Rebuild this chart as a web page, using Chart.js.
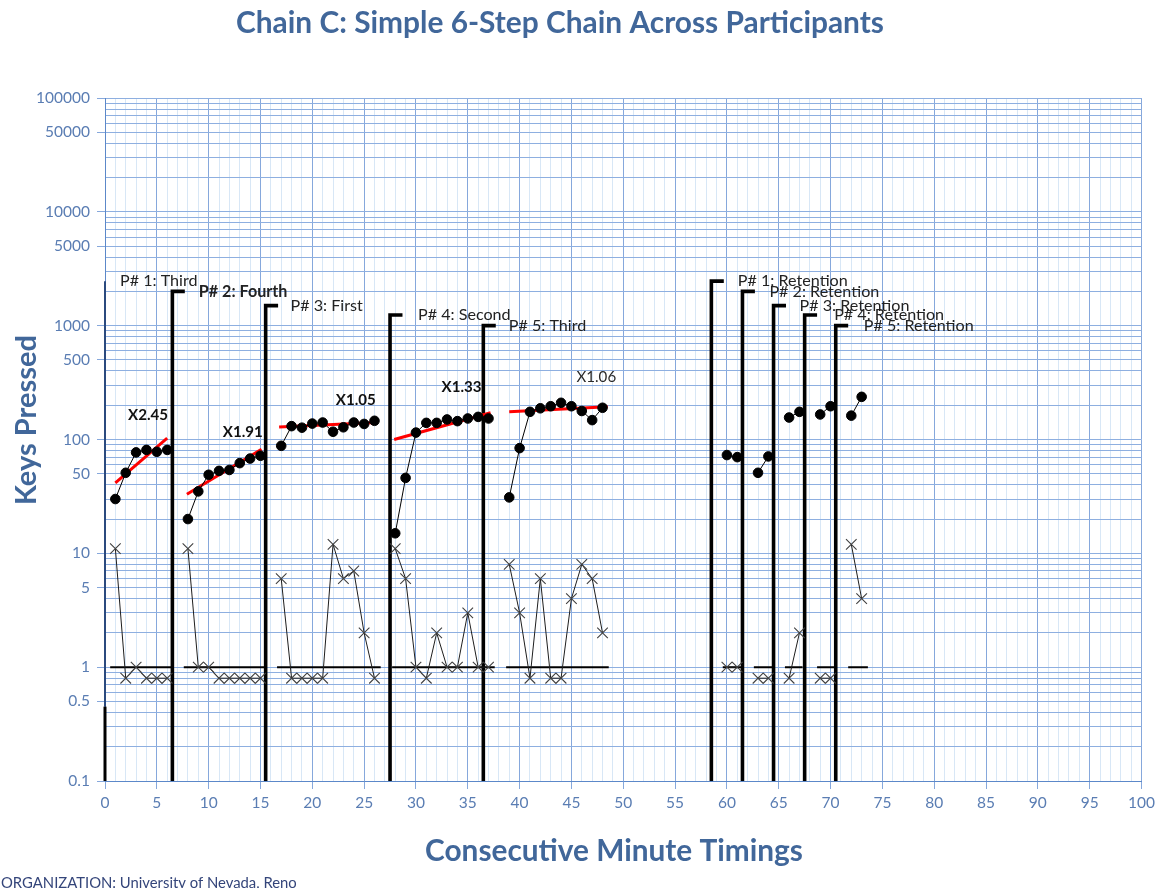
<!DOCTYPE html>
<html>
<head>
<meta charset="utf-8">
<script src="https://cdn.jsdelivr.net/npm/chart.js@4.4.1/dist/chart.umd.min.js"></script>
<style>
  html, body { margin: 0; padding: 0; background: #ffffff; }
  canvas { display: block; }
</style>
</head>
<body>
<canvas id="chart" width="1160" height="888"></canvas>
<script>
// ---- Minute timings and counts per participant (keys pressed per minute) ----
const p1Timings = [1, 2, 3, 4, 5, 6];
const p1Correct = [30, 51, 77, 81, 78, 81];
const p1Errors  = [11, 0.8, 1, 0.8, 0.8, 0.8];

const p2Timings = [8, 9, 10, 11, 12, 13, 14, 15];
const p2Correct = [20, 35, 49, 53, 54, 62, 68, 72];
const p2Errors  = [11, 1, 1, 0.8, 0.8, 0.8, 0.8, 0.8];

const p3Timings = [17, 18, 19, 20, 21, 22, 23, 24, 25, 26];
const p3Correct = [88, 131, 127, 138, 141, 117, 128, 141, 137, 146];
const p3Errors  = [6, 0.8, 0.8, 0.8, 0.8, 12, 6, 7, 2, 0.8];

const p4Timings = [28, 29, 30, 31, 32, 33, 34, 35, 36, 37];
const p4Correct = [15, 46, 115, 140, 140, 150, 145, 153, 158, 153];
const p4Errors  = [11, 6, 1, 0.8, 2, 1, 1, 3, 1, 1];

const p5Timings = [39, 40, 41, 42, 43, 44, 45, 46, 47, 48];
const p5Correct = [31, 84, 175, 188, 196, 210, 196, 178, 148, 190];
const p5Errors  = [8, 3, 0.8, 6, 0.8, 0.8, 4, 8, 6, 2];

// Retention checks
const r1Timings = [60, 61];  const r1Correct = [73, 70];   const r1Errors = [1, 1];
const r2Timings = [63, 64];  const r2Correct = [51, 71];   const r2Errors = [0.8, 0.8];
const r3Timings = [66, 67];  const r3Correct = [156, 175]; const r3Errors = [0.8, 2];
const r4Timings = [69, 70];  const r4Correct = [166, 196]; const r4Errors = [0.8, 0.8];
const r5Timings = [72, 73];  const r5Correct = [162, 237]; const r5Errors = [12, 4];

// Phase change lines and their labels
const phaseTimings = [0, 6.5, 15.5, 27.5, 36.5, 58.5, 61.5, 64.5, 67.5, 70.5];
const phaseTops    = [2460, 2000, 1500, 1240, 1000, 2460, 2000, 1500, 1240, 1000];
const phaseNames   = ['P# 1: Third', 'P# 2: Fourth', 'P# 3: First', 'P# 4: Second', 'P# 5: Third',
                      'P# 1: Retention', 'P# 2: Retention', 'P# 3: Retention', 'P# 4: Retention', 'P# 5: Retention'];
const phaseNameTimings = [1.45, 9.05, 17.9, 30.2, 38.95, 61.05, 64.1, 67.0, 70.35, 73.2];
const phaseNameBold    = [false, true, false, false, false, false, false, false, false, false];

// Record floor (one per minute) per phase
const floorValue  = 1;
const floorStarts = [0.5, 7.6, 16.6, 27.7, 38.7, 59.6, 62.6, 65.6, 68.7, 71.7];
const floorEnds   = [6.5, 15.5, 26.6, 37.6, 48.6, 61.4, 64.4, 67.3, 70.4, 73.6];

// Celeration lines and their values
const celStartT = [1, 7.9, 16.8, 27.9, 39];
const celStartV = [41.6, 33, 129, 100, 175];
const celEndT   = [6, 15.1, 26.2, 37.2, 48.5];
const celEndV   = [103, 82, 141, 172, 194];
const celLabels = ['X2.45', 'X1.91', 'X1.05', 'X1.33', 'X1.06'];
const celLabelT = [4.15, 13.3, 24.2, 34.4, 47.4];
const celLabelV = [164, 116, 220, 288, 355];
const celLabelBold = [true, true, true, true, false];

// Axis tick labels
const yTickLabels = ['100000', '50000', '10000', '5000', '1000', '500', '100', '50', '10', '5', '1', '0.5', '0.1'];
const xTickLabels = ['0', '5', '10', '15', '20', '25', '30', '35', '40', '45', '50',
                     '55', '60', '65', '70', '75', '80', '85', '90', '95', '100'];

// ---- Styling ----
const FONT = 'Lato, "Open Sans", "DejaVu Sans", sans-serif';
const TITLE_BLUE = '#41679A';
const TICK_BLUE = '#5A7DB3';
const MAJOR_GRID = '#86A8DC';
const MINOR_GRID = '#D8E7F6';
const H_GRID = '#8EAFE0';
const AXIS_BLUE = '#5C88C9';
const flagLength = 1.2;

const pts = (xs, ys) => xs.map((x, i) => ({ x: x, y: ys[i] }));

function fitSize(ctx, text, weight, width) {
  ctx.font = weight + ' 100px ' + FONT;
  return 100 * width / ctx.measureText(text).width;
}

// Tick font sized so that the widest value label spans about 54px
const measureCtx = document.createElement('canvas').getContext('2d');
const tickSize = Math.round(fitSize(measureCtx, '100000', 'normal', 54) * 10) / 10;

// Horizontal grid: every 1..9 multiple of each decade from 0.1 to 100000
const yGridValues = [];
for (let e = -1; e <= 4; e++) {
  for (let m = 1; m <= 9; m++) yGridValues.push(Number((m * Math.pow(10, e)).toPrecision(6)));
}
yGridValues.push(100000);
const yLabelValues = yTickLabels.map(Number);
const yLabelFor = v => {
  const i = yLabelValues.findIndex(l => Math.abs(v - l) / l < 1e-6);
  return i >= 0 ? yTickLabels[i] : '';
};
const xLabelFor = v => {
  const i = xTickLabels.indexOf(String(v));
  return i >= 0 ? xTickLabels[i] : '';
};

const datasets = [];

const groups = [
  [p1Timings, p1Correct, p1Errors], [p2Timings, p2Correct, p2Errors],
  [p3Timings, p3Correct, p3Errors], [p4Timings, p4Correct, p4Errors],
  [p5Timings, p5Correct, p5Errors],
  [r1Timings, r1Correct, r1Errors], [r2Timings, r2Correct, r2Errors],
  [r3Timings, r3Correct, r3Errors], [r4Timings, r4Correct, r4Errors],
  [r5Timings, r5Correct, r5Errors]
];

groups.forEach(([t, c, e]) => {
  datasets.push({
    data: pts(t, c), showLine: true, borderColor: '#000', borderWidth: 1,
    pointStyle: 'circle', pointRadius: 4.8, pointBackgroundColor: '#000',
    pointBorderColor: '#000', pointBorderWidth: 1, order: 1
  });
  datasets.push({
    data: pts(t, e), showLine: true, borderColor: '#1e1e1e', borderWidth: 1,
    pointStyle: 'crossRot', pointRadius: 7.5, pointBackgroundColor: 'rgba(0,0,0,0)',
    pointBorderColor: '#404040', pointBorderWidth: 1.1, order: 2
  });
});

celStartT.forEach((t, i) => {
  datasets.push({
    data: [{ x: t, y: celStartV[i] }, { x: celEndT[i], y: celEndV[i] }],
    showLine: true, borderColor: '#FF0000', borderWidth: 3, pointRadius: 0, order: 3
  });
});

floorStarts.forEach((t, i) => {
  datasets.push({
    data: [{ x: t, y: floorValue }, { x: floorEnds[i], y: floorValue }],
    showLine: true, borderColor: '#000', borderWidth: 2, pointRadius: 0, order: 4
  });
});

phaseTimings.forEach((t, i) => {
  if (i === 0) {
    datasets.push({
      data: [{ x: t, y: 0.1 }, { x: t, y: 0.45 }],
      showLine: true, borderColor: '#000', borderWidth: 3, pointRadius: 0, order: 5, clip: false
    });
    datasets.push({
      data: [{ x: t, y: 0.45 }, { x: t, y: phaseTops[i] }],
      showLine: true, borderColor: '#2B4A7E', borderWidth: 2, pointRadius: 0, order: 5, clip: false
    });
  } else {
    datasets.push({
      data: [{ x: t, y: 0.1 }, { x: t, y: phaseTops[i] }, { x: t + flagLength, y: phaseTops[i] }],
      showLine: true, borderColor: '#000', borderWidth: 3.6, pointRadius: 0,
      borderJoinStyle: 'miter', borderCapStyle: 'butt', order: 5, clip: false
    });
  }
});

const textPlugin = {
  id: 'chartText',
  afterDraw(chart) {
    const ctx = chart.ctx;
    const xs = chart.scales.x, ys = chart.scales.y;
    ctx.save();

    // Title
    const title = 'Chain C: Simple 6-Step Chain Across Participants';
    ctx.fillStyle = TITLE_BLUE;
    ctx.textAlign = 'center';
    ctx.textBaseline = 'middle';
    ctx.font = 'bold ' + fitSize(ctx, title, 'bold', 648).toFixed(2) + 'px ' + FONT;
    ctx.fillText(title, 560, 23);

    // Axis titles
    const xTitle = 'Consecutive Minute Timings';
    ctx.font = 'bold ' + fitSize(ctx, xTitle, 'bold', 378).toFixed(2) + 'px ' + FONT;
    ctx.fillText(xTitle, 614, 851);

    const yTitle = 'Keys Pressed';
    ctx.save();
    ctx.translate(27, 420);
    ctx.rotate(-Math.PI / 2);
    ctx.font = 'bold ' + fitSize(ctx, yTitle, 'bold', 170).toFixed(2) + 'px ' + FONT;
    ctx.fillText(yTitle, 0, 0);
    ctx.restore();

    // Footer
    const footer = 'ORGANIZATION: University of Nevada, Reno';
    ctx.textAlign = 'left';
    ctx.fillStyle = '#34457A';
    ctx.font = fitSize(ctx, footer, 'normal', 296).toFixed(2) + 'px ' + FONT;
    ctx.fillText(footer, 1, 883);

    // Phase labels
    const phaseSize = fitSize(ctx, 'P# 1: Retention', 'normal', 110);
    phaseNames.forEach((name, i) => {
      const w = phaseNameBold[i] ? 'bold' : 'normal';
      ctx.font = w + ' ' + phaseSize.toFixed(2) + 'px ' + FONT;
      ctx.fillStyle = '#222222';
      ctx.textAlign = 'left';
      ctx.fillText(name, xs.getPixelForValue(phaseNameTimings[i]), ys.getPixelForValue(phaseTops[i]));
    });

    // Celeration values
    const celSize = fitSize(ctx, 'X2.45', 'bold', 40);
    celLabels.forEach((lab, i) => {
      ctx.font = (celLabelBold[i] ? 'bold ' : 'normal ') + celSize.toFixed(2) + 'px ' + FONT;
      ctx.fillStyle = celLabelBold[i] ? '#111111' : '#2a2a2a';
      ctx.textAlign = 'center';
      ctx.fillText(lab, xs.getPixelForValue(celLabelT[i]), ys.getPixelForValue(celLabelV[i]));
    });

    ctx.restore();
  }
};

new Chart(document.getElementById('chart'), {
  type: 'scatter',
  data: { datasets: datasets },
  options: {
    responsive: false,
    animation: false,
    events: [],
    layout: { padding: { top: 98, right: 18, left: 0, bottom: 0 } },
    plugins: { legend: { display: false }, tooltip: { enabled: false }, title: { display: false } },
    scales: {
      x: {
        type: 'linear', min: 0, max: 100,
        afterBuildTicks: s => { s.ticks = Array.from({ length: 101 }, (_, i) => ({ value: i })); },
        afterFit: s => { s.height = 107; },
        ticks: {
          autoSkip: false, maxRotation: 0, minRotation: 0, padding: 5,
          color: TICK_BLUE, font: { family: FONT, size: tickSize },
          callback: v => xLabelFor(v)
        },
        grid: {
          color: c => (c.tick && c.tick.value % 5 === 0) ? MAJOR_GRID : MINOR_GRID,
          tickColor: c => (c.tick && c.tick.value % 5 === 0) ? MAJOR_GRID : 'rgba(0,0,0,0)',
          tickLength: 8, lineWidth: 1
        },
        border: { color: AXIS_BLUE, width: 1 }
      },
      y: {
        type: 'logarithmic', min: 0.1, max: 100000,
        afterBuildTicks: s => { s.ticks = yGridValues.map(v => ({ value: v })); },
        afterFit: s => { s.width = 105; },
        ticks: {
          autoSkip: false, padding: 7,
          color: TICK_BLUE, font: { family: FONT, size: tickSize },
          callback: v => yLabelFor(v)
        },
        grid: {
          color: H_GRID,
          tickColor: c => (c.tick && yLabelFor(c.tick.value) !== '') ? MAJOR_GRID : 'rgba(0,0,0,0)',
          tickLength: 8, lineWidth: 1
        },
        border: { color: AXIS_BLUE, width: 1 }
      }
    }
  },
  plugins: [textPlugin]
});
</script>
</body>
</html>
